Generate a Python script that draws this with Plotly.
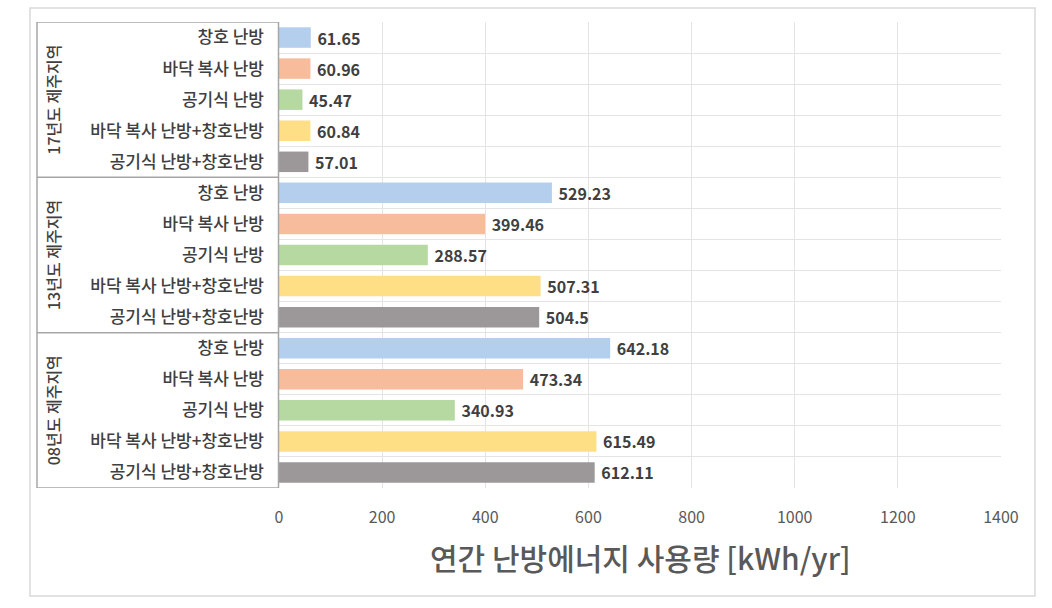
import plotly.graph_objects as go

groups = ["17년도 제주지역", "13년도 제주지역", "08년도 제주지역"]
methods = ["창호 난방", "바닥 복사 난방", "공기식 난방", "바닥 복사 난방+창호난방", "공기식 난방+창호난방"]
values_17 = [61.65, 60.96, 45.47, 60.84, 57.01]
values_13 = [529.23, 399.46, 288.57, 507.31, 504.5]
values_08 = [642.18, 473.34, 340.93, 615.49, 612.11]
labels_17 = ["61.65", "60.96", "45.47", "60.84", "57.01"]
labels_13 = ["529.23", "399.46", "288.57", "507.31", "504.5"]
labels_08 = ["642.18", "473.34", "340.93", "615.49", "612.11"]
x_ticks = [0, 200, 400, 600, 800, 1000, 1200, 1400]
x_title = "연간 난방에너지 사용량 [kWh/yr]"
colors = ["#B4CFEE", "#F6BC9C", "#B6D9A2", "#FFDF86", "#9C9899"]

all_vals = values_17 + values_13 + values_08
all_text = labels_17 + labels_13 + labels_08
all_cats = methods * 3
ypos = list(range(len(all_vals)))
bar_colors = colors * 3

fig = go.Figure()
fig.add_trace(go.Bar(
    x=all_vals, y=ypos, orientation="h",
    marker=dict(color=bar_colors, line=dict(width=0)),
    width=0.66,
    text=[" " + t for t in all_text], textposition="outside", constraintext="none",
    textfont=dict(family="Noto Sans CJK KR", size=16, color="#404040", weight="bold"),
    cliponaxis=False, hoverinfo="skip",
))

# plot area in pixels: x 279..1001, y 22..488
PX0, PX1, PY0, PY1 = 279, 1001, 22, 488
def px(x):
    return (x - PX0) / (PX1 - PX0)
def py(y):
    return (PY1 - y) / (PY1 - PY0)

shapes = []
shapes.append(dict(type="rect", xref="paper", yref="paper", x0=px(30), x1=px(1035), y0=py(596), y1=py(8),
                   line=dict(color="#D9D9D9", width=1.5), layer="below"))
box_line = dict(color="#A6A6A6", width=1.5)
shapes.append(dict(type="rect", xref="paper", yref="y", x0=px(37), x1=px(278.5), y0=-0.5, y1=14.5, line=box_line))
for b in [4.5, 9.5]:
    shapes.append(dict(type="line", xref="paper", yref="y", x0=px(37), x1=px(278.5), y0=b, y1=b, line=box_line))

annotations = []
for i, g in enumerate(groups):
    annotations.append(dict(text=g, xref="paper", yref="y", x=px(53), y=i * 5 + 2, textangle=-90,
                            showarrow=False, font=dict(family="Noto Sans CJK KR", size=16, color="#404040", weight=500),
                            xanchor="center", yanchor="middle"))
annotations.append(dict(text=x_title, xref="paper", yref="paper", x=px(640), y=py(557),
                        showarrow=False, xanchor="center", yanchor="middle",
                        font=dict(family="Noto Sans CJK KR", size=30, color="#595959", weight=500)))

fig.update_layout(
    width=1052, height=608,
    margin=dict(l=PX0, r=1052 - PX1, t=PY0, b=608 - PY1),
    paper_bgcolor="white", plot_bgcolor="white",
    showlegend=False,
    shapes=shapes, annotations=annotations,
    xaxis=dict(range=[0, 1400], tickvals=x_ticks, ticktext=[str(v) for v in x_ticks],
               showgrid=True, gridcolor="#E4E4E4", gridwidth=1, zeroline=False,
               showline=False, ticks="", ticklabelstandoff=18,
               tickfont=dict(family="Noto Sans CJK KR", size=16, color="#595959")),
    yaxis=dict(range=[14.5, -0.5], tickvals=ypos, ticktext=all_cats, showgrid=False, zeroline=False,
               ticks="", ticklabelstandoff=14,
               tickfont=dict(family="Noto Sans CJK KR", size=17, color="#404040", weight=500),
               minor=dict(tick0=0.5, dtick=1, showgrid=True, gridcolor="#E4E4E4", gridwidth=1, ticks="")),
    font=dict(family="Noto Sans CJK KR"),
)

fig.write_html("out.html")
